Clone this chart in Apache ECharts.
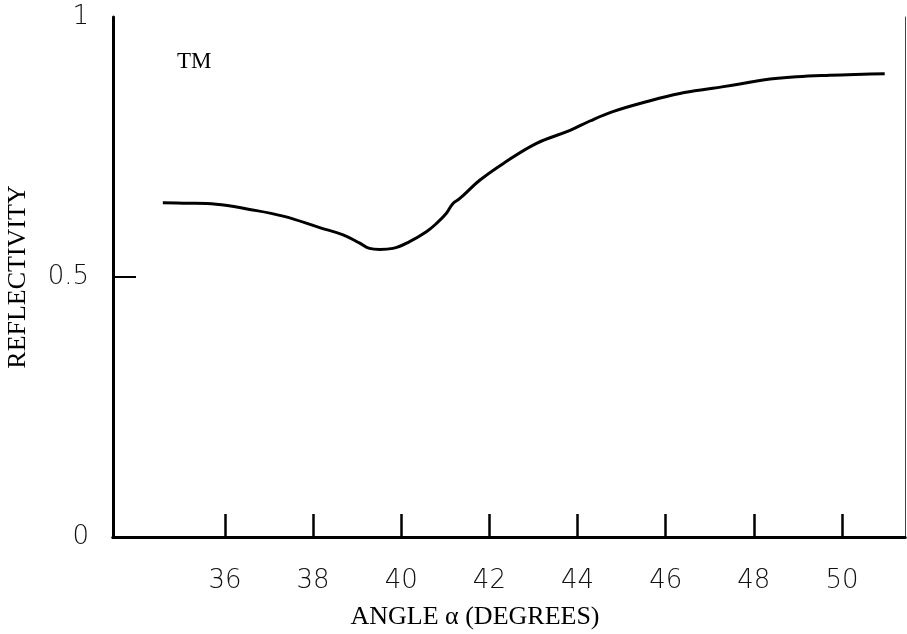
<!DOCTYPE html>
<html>
<head>
<meta charset="utf-8">
<script src="https://cdn.jsdelivr.net/npm/echarts@6/dist/echarts.min.js"></script>
<style>html,body{margin:0;padding:0;background:#fff;}#c{width:907px;height:634px;}</style>
</head>
<body>
<div id="c"></div>
<script>
// Data
const angles = [34.59, 35.05, 35.80, 36.56, 37.32, 38.15, 38.68, 39.06, 39.28, 39.51, 39.81, 40.19, 40.57, 40.80, 41.02, 41.17, 41.33, 41.78, 42.31, 43.07, 43.83, 44.28, 44.80, 45.56, 46.32, 47.07, 47.68, 48.21, 48.97, 49.72, 50.48, 50.97];
const reflectivity = [0.643, 0.642, 0.640, 0.630, 0.617, 0.595, 0.581, 0.565, 0.555, 0.553, 0.555, 0.568, 0.587, 0.603, 0.622, 0.641, 0.651, 0.686, 0.718, 0.757, 0.782, 0.800, 0.818, 0.837, 0.853, 0.863, 0.871, 0.879, 0.885, 0.888, 0.890, 0.891];
const xTicks = [36, 38, 40, 42, 44, 46, 48, 50];
const yLabels = [0, 0.5, 1];
const yTicks = [0.5];
const xName = 'ANGLE α (DEGREES)';
const yName = 'REFLECTIVITY';
const modeLabel = 'TM';

const data = angles.map((a, i) => [a, reflectivity[i]]);
const chart = echarts.init(document.getElementById('c'), null, {renderer: 'canvas'});
const tickFont = {fontFamily: 'DejaVu Sans', fontWeight: 200, fontSize: 26, color: '#111'};
const serif = 'Liberation Serif';
chart.setOption({
  animation: false,
  backgroundColor: '#fff',
  grid: {left: 113, top: 17, right: 2, bottom: 97, containLabel: false, outerBoundsMode: 'none'},
  xAxis: [{
    type: 'value', min: 33.46, max: 51.43,
    axisLine: {show: true, lineStyle: {color: '#000', width: 3}},
    axisTick: {show: true, inside: true, length: 23, lineStyle: {color: '#000', width: 2.5}, customValues: xTicks},
    axisLabel: Object.assign({margin: 31, customValues: xTicks, formatter: v => String(v)}, tickFont),
    splitLine: {show: false},
    name: xName, nameLocation: 'middle', nameGap: 67,
    nameTextStyle: {fontFamily: serif, fontSize: 26, color: '#000', padding: [0, 68, 0, 0]}
  }, {
    type: 'value', position: 'top', min: 33.46, max: 51.43,
    axisLine: {show: true, lineStyle: {color: '#000', width: 3}},
    axisTick: {show: false}, axisLabel: {show: false}, splitLine: {show: false}
  }],
  yAxis: [{
    type: 'value', min: 0, max: 1,
    axisLine: {show: true, lineStyle: {color: '#000', width: 3}},
    axisTick: {show: true, inside: true, length: 23, lineStyle: {color: '#000', width: 2}, customValues: yTicks},
    axisLabel: Object.assign({margin: 24, customValues: yLabels, formatter: v => String(v)}, tickFont),
    splitLine: {show: false},
    name: yName, nameLocation: 'middle', nameGap: 82, nameRotate: 90,
    nameTextStyle: {fontFamily: serif, fontSize: 26, color: '#000'}
  }, {
    type: 'value', position: 'right', min: 0, max: 1,
    axisLine: {show: true, lineStyle: {color: '#444', width: 1}},
    axisTick: {show: false}, axisLabel: {show: false}, splitLine: {show: false}
  }],
  graphic: [{
    type: 'text', left: 177, top: 50,
    style: {text: modeLabel, fontFamily: serif, fontSize: 23, fill: '#000'}
  }],
  series: [{
    type: 'line', data: data, xAxisIndex: 0, yAxisIndex: 0,
    showSymbol: false, smooth: 0.4,
    lineStyle: {color: '#000', width: 3}
  }]
});
</script>
</body>
</html>
